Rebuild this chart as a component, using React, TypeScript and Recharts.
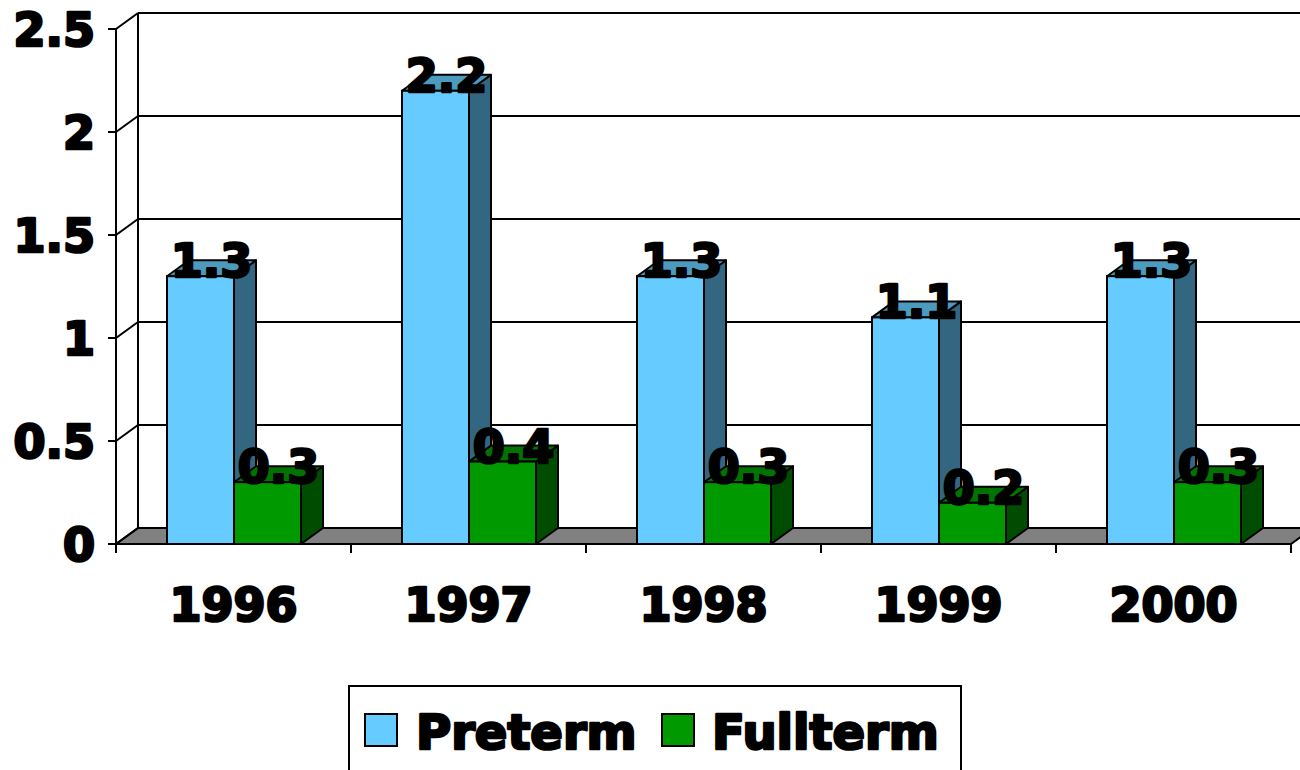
import React from "react";
import { BarChart, Bar, XAxis, YAxis, CartesianGrid, LabelList, Legend } from "recharts";

// values
const YEARS = ["1996", "1997", "1998", "1999", "2000"];
const PRETERM = [1.3, 2.2, 1.3, 1.1, 1.3];
const FULLTERM = [0.3, 0.4, 0.3, 0.2, 0.3];
const Y_TICKS = [0, 0.5, 1, 1.5, 2, 2.5];

const data = YEARS.map((year, i) => ({ year, preterm: PRETERM[i], fullterm: FULLTERM[i] }));

// depth of the fake 3d
const DX = 22;
const DY = -16;
const FONT = "'DejaVu Sans', 'Liberation Sans', Arial, sans-serif";

const COLORS = {
  preterm: { front: "#66CCFF", side: "#336680", top: "#4D9ABF" },
  fullterm: { front: "#009900", side: "#004C00", top: "#007300" },
};

const boldText = {
  fontFamily: FONT,
  fontWeight: 700,
  fontSize: 46,
  fill: "#000",
  stroke: "#000",
  strokeWidth: 2.6,
  strokeLinejoin: "round" as const,
};

const makeBox = (c: { front: string; side: string; top: string }) => (props: any) => {
  const { x, y, width: w, height: h } = props;
  if (w == null || h == null) return null;
  const side = `${x + w},${y} ${x + w + DX},${y + DY} ${x + w + DX},${y + h + DY} ${x + w},${y + h}`;
  const top = `${x},${y} ${x + DX},${y + DY} ${x + w + DX},${y + DY} ${x + w},${y}`;
  return (
    <g>
      <polygon points={side} fill={c.side} stroke="#000" strokeWidth={2} strokeLinejoin="round" />
      <polygon points={top} fill={c.top} stroke="#000" strokeWidth={2} strokeLinejoin="round" />
      <rect x={x} y={y} width={w} height={h} fill={c.front} stroke="#000" strokeWidth={2} />
    </g>
  );
};

const renderLabel = (props: any) => {
  const vb = props.viewBox || {};
  const x = props.x ?? vb.x;
  const y = props.y ?? vb.y;
  const w = props.width ?? vb.width;
  return (
    <text x={x + w / 2 + DX / 2} y={y + 1} textAnchor="middle" style={boldText}>
      {props.value}
    </text>
  );
};

const gridRow = (props: any) => {
  const { x1, y1, x2, index } = props;
  const bottom = props.y + props.height;
  const isFloor = Math.abs(y1 - bottom) < 0.5;
  return (
    <g key={`row-${index}`}>
      {isFloor ? (
        <polygon
          points={`${x1},${y1} ${x2},${y1} ${x2 + DX},${y1 + DY} ${x1 + DX},${y1 + DY}`}
          fill="#808080"
          stroke="#000"
          strokeWidth={2}
        />
      ) : (
        <line x1={x1 + DX} y1={y1 + DY} x2={x2 + DX} y2={y1 + DY} stroke="#000" strokeWidth={2} />
      )}
      <line x1={x1} y1={y1} x2={x1 + DX} y2={y1 + DY} stroke="#000" strokeWidth={2} />
      <line
        x1={props.x + DX}
        y1={props.y + DY}
        x2={props.x + DX}
        y2={bottom + DY}
        stroke="#000"
        strokeWidth={2}
      />
    </g>
  );
};

// little ticks between the categories, under the front edge
const gridCol = (props: any) => {
  const { x1, y2, index } = props;
  return <line key={`col-${index}`} x1={x1} y1={y2} x2={x1} y2={y2 + 9} stroke="#000" strokeWidth={2} />;
};

const boundaries = ({ offset }: any) => YEARS.concat([""]).map((_, i) => offset.left + (i * offset.width) / YEARS.length);

const YTick = (props: any) => (
  <text x={props.x} y={props.y} dy="0.36em" textAnchor="end" style={boldText}>
    {props.payload.value}
  </text>
);

const XTick = (props: any) => (
  <text x={props.x} y={props.y + 77} textAnchor="middle" style={boldText}>
    {props.payload.value}
  </text>
);

const LegendBox = () => (
  <svg width={614} height={94} style={{ display: "block" }}>
    <rect x={1} y={1} width={612} height={100} fill="#fff" stroke="#000" strokeWidth={2} />
    <rect x={17} y={29} width={32} height={32} fill={COLORS.preterm.front} stroke="#000" strokeWidth={2} />
    <text x={68} y={64} style={{ ...boldText, fontSize: 48 }}>Preterm</text>
    <rect x={314} y={29} width={32} height={32} fill={COLORS.fullterm.front} stroke="#000" strokeWidth={2} />
    <text x={364} y={64} style={{ ...boldText, fontSize: 48 }}>Fullterm</text>
  </svg>
);

export default function App() {
  return (
    <div style={{ position: "absolute", left: 0, top: 0, width: 1300, height: 770, overflow: "hidden", background: "#fff" }}>
      <BarChart
        width={1300}
        height={770}
        data={data}
        margin={{ top: 29, right: 9, left: 16, bottom: 166 }}
        barSize={67}
        barGap={0}
      >
        <CartesianGrid
          horizontal={gridRow}
          vertical={gridCol}
          verticalCoordinatesGenerator={boundaries}
          stroke="#000"
        />
        <XAxis
          dataKey="year"
          height={60}
          axisLine={{ stroke: "#000", strokeWidth: 2 }}
          tickLine={false}
          tickSize={0}
          tickMargin={0}
          tick={<XTick />}
          interval={0}
        />
        <YAxis
          width={100}
          domain={[0, 2.5]}
          ticks={Y_TICKS}
          interval={0}
          axisLine={{ stroke: "#000", strokeWidth: 2 }}
          tickLine={{ stroke: "#000", strokeWidth: 2 }}
          tickSize={8}
          tickMargin={13}
          tick={<YTick />}
        />
        <Legend
          layout="horizontal"
          verticalAlign="middle"
          align="center"
          content={<LegendBox />}
          wrapperStyle={{ left: 348, top: 685, width: 614, height: 94 }}
        />
        <Bar dataKey="preterm" name="Preterm" fill={COLORS.preterm.front} shape={makeBox(COLORS.preterm)} isAnimationActive={false}>
          <LabelList dataKey="preterm" content={renderLabel} />
        </Bar>
        <Bar dataKey="fullterm" name="Fullterm" fill={COLORS.fullterm.front} shape={makeBox(COLORS.fullterm)} isAnimationActive={false}>
          <LabelList dataKey="fullterm" content={renderLabel} />
        </Bar>
      </BarChart>
    </div>
  );
}
